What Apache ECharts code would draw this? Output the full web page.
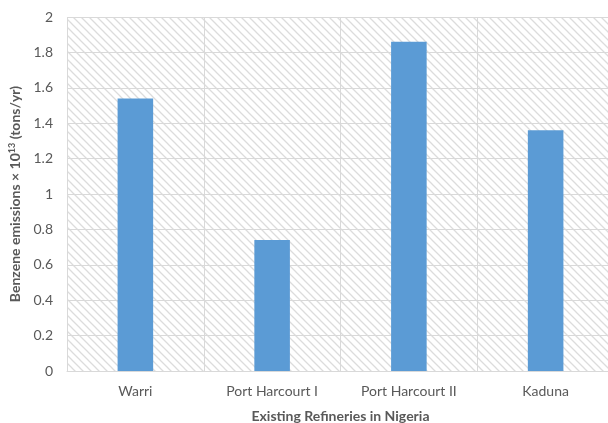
<!DOCTYPE html>
<html>
<head>
<meta charset="utf-8">
<script src="https://cdn.jsdelivr.net/npm/echarts@6/dist/echarts.min.js"></script>
<style>
html, body { margin: 0; padding: 0; background: #fff; }
#container { width: 608px; height: 423px; }
</style>
</head>
<body>
<div id="container"></div>
<script>
var refineries = ['Warri', 'Port Harcourt I', 'Port Harcourt II', 'Kaduna'];
var emissions = [1.54, 0.74, 1.86, 1.36];

// hatch pattern for the plot area
var hatch = document.createElement('canvas');
hatch.width = 8;
hatch.height = 8;
var ctx = hatch.getContext('2d');
ctx.fillStyle = '#fff';
ctx.fillRect(0, 0, 8, 8);
ctx.strokeStyle = '#dcdcdc';
ctx.lineWidth = 1.3;
ctx.beginPath();
ctx.moveTo(-1, -1); ctx.lineTo(9, 9);
ctx.moveTo(-1, 7); ctx.lineTo(1, 9);
ctx.moveTo(7, -1); ctx.lineTo(9, 1);
ctx.stroke();

var myChart = echarts.init(document.getElementById('container'));

var option = {
	animation: false,
	textStyle: { fontFamily: 'Lato' },
	grid: {
		left: 67,
		right: -6,
		top: 17,
		bottom: 52,
		outerBoundsMode: 'none',
		containLabel: false,
		show: true,
		borderWidth: 0,
		backgroundColor: { image: hatch, repeat: 'repeat' }
	},
	xAxis: {
		type: 'category',
		data: refineries,
		name: 'Existing Refineries in Nigeria',
		nameLocation: 'middle',
		nameGap: 38,
		nameTextStyle: { fontWeight: 'bold', fontSize: 14, color: '#595959', fontFamily: 'Lato' },
		axisLine: { lineStyle: { color: '#d9d9d9' } },
		axisTick: { show: false },
		axisLabel: { color: '#595959', fontSize: 14, margin: 13 },
		splitLine: { show: true, interval: 0, lineStyle: { color: '#d9d9d9' } }
	},
	yAxis: {
		type: 'value',
		min: 0,
		max: 2,
		interval: 0.2,
		name: 'Benzene emissions × 10{sup|13} (tons/yr)',
		nameLocation: 'middle',
		nameGap: 44,
		nameTextStyle: {
			fontWeight: 'bold', fontSize: 14, color: '#595959', fontFamily: 'Lato',
			rich: {
				sup: { fontWeight: 'bold', fontSize: 9, color: '#595959', fontFamily: 'Lato', verticalAlign: 'top', padding: [0, 0, 6, 0] }
			}
		},
		axisLine: { show: false },
		axisTick: { show: false },
		axisLabel: { color: '#595959', fontSize: 14, margin: 14 },
		splitLine: { lineStyle: { color: '#d9d9d9' } }
	},
	series: [{
		type: 'bar',
		data: emissions,
		barWidth: '26%',
		itemStyle: { color: '#5b9bd5' }
	}]
};

myChart.setOption(option);
</script>
</body>
</html>
